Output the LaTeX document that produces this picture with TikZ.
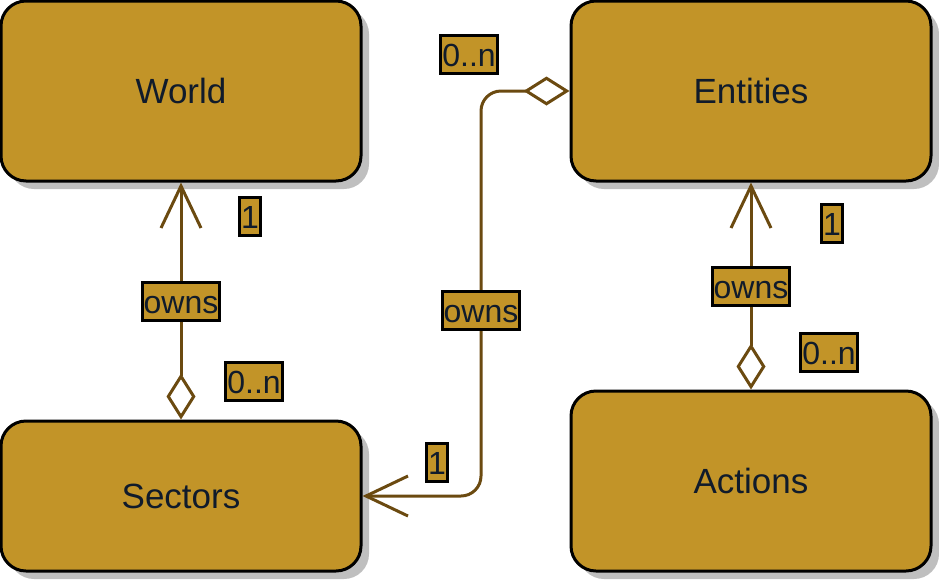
\documentclass[tikz,border=0pt]{standalone}
\usepackage{fontspec}
\setmainfont{Liberation Sans}
\usetikzlibrary{arrows.meta,shadows}
\definecolor{gold}{HTML}{C29428}
\definecolor{shadowgray}{HTML}{BFBFBF}
\definecolor{txt}{HTML}{101B2B}
\definecolor{conncol}{HTML}{6B4A10}
\tikzset{
  entity/.style={draw=black, line width=3pt, fill=gold, rounded corners=25pt,
    minimum width=360pt, text=txt, font=\fontsize{35}{42}\selectfont,
    drop shadow={opacity=1, fill=shadowgray, shadow xshift=8pt, shadow yshift=-8pt}},
  lbl/.style={draw=black, line width=3pt, fill=gold, text=txt,
    font=\fontsize{32}{38}\selectfont, inner xsep=1.5pt, inner ysep=3pt,
    text height=28pt, text depth=4pt},
  conn/.style={draw=conncol, line width=3pt},
  dia/.tip={Diamond[open, length=46pt, width=29pt]},
  barb/.tip={Straight Barb[length=42pt, width=40pt]}
}
\begin{document}
\begin{tikzpicture}[x=1pt, y=-1pt]
\useasboundingbox (0,0) rectangle (939,582);
\node[entity, minimum height=180pt] (world) at (181,91) {World};
\node[entity, minimum height=180pt] (entities) at (751,91) {Entities};
\node[entity, minimum height=150pt] (sectors) at (181,496) {Sectors};
\node[entity, minimum height=180pt] (actions) at (751,481) {Actions};
\coordinate (bend) at (481,0);
\draw[conn, {dia}-{barb}] (sectors.north) -- (world.south);
\draw[conn, rounded corners=20pt, {dia}-{barb}] (entities.west) -| (bend |- sectors.east) -- (sectors.east);
\draw[conn, {dia}-{barb}] (actions.north) -- (entities.south);
\node[lbl] (l1) at (250,216) {1};
\node[lbl] (l2) at (181,301) {owns};
\node[lbl] (l3) at (254,381) {0..n};
\node[lbl] (l4) at (469,54) {0..n};
\node[lbl] (l5) at (481,310) {owns};
\node[lbl] (l6) at (437,462) {1};
\node[lbl] (l7) at (832,223) {1};
\node[lbl] (l8) at (751,286) {owns};
\node[lbl] (l9) at (829,352) {0..n};
\end{tikzpicture}
\end{document}
